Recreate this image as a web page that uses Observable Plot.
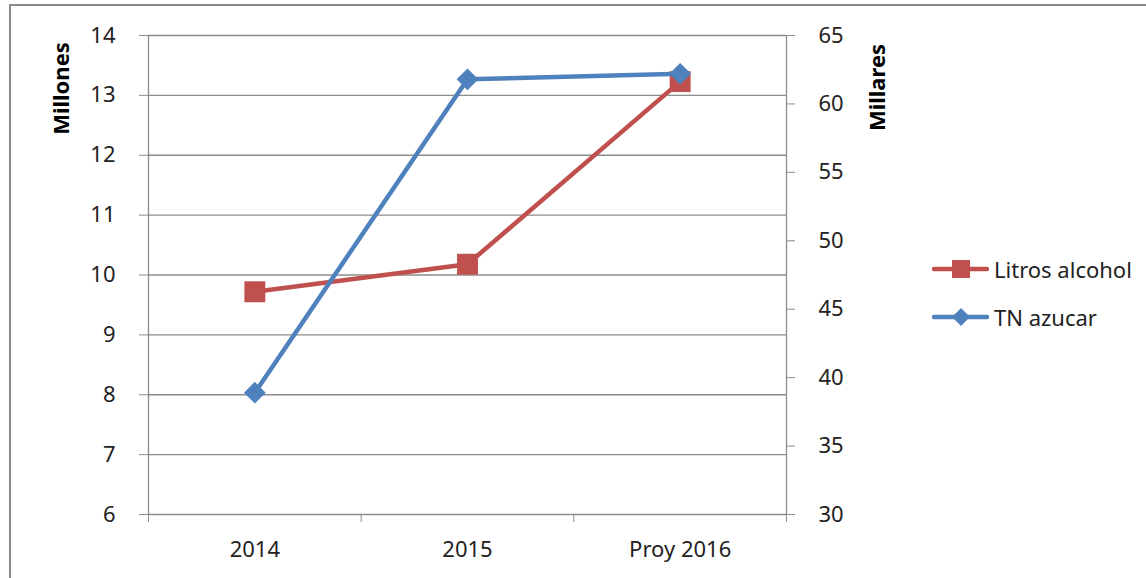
<!DOCTYPE html>
<html><head><meta charset="utf-8">
<script src="https://cdn.jsdelivr.net/npm/d3@7"></script>
<script src="https://cdn.jsdelivr.net/npm/@observablehq/plot@0.6"></script>
<style>
body{margin:0;background:#fff;}
#wrap{position:relative;width:1146px;height:578px;overflow:hidden;font-family:"Noto Sans",sans-serif;color:#222;}
#frame{position:absolute;left:9px;top:4px;width:1300px;height:800px;border-left:2px solid #8a8a8a;border-top:2px solid #8a8a8a;pointer-events:none;}
.leg{position:absolute;left:932px;display:flex;align-items:center;font-size:22px;height:30px;line-height:30px;}
.leg svg{display:block;margin-right:5px;}
</style></head>
<body><div id="wrap"><div id="chart"></div>
<div class="leg" style="top:254px"><svg width="57" height="30"><line x1="2" x2="55" y1="15" y2="15" stroke="#C0504D" stroke-width="4.5" stroke-linecap="round"/><rect x="20" y="6" width="18" height="18" fill="#C0504D"/></svg><span>Litros alcohol</span></div>
<div class="leg" style="top:302px"><svg width="57" height="30"><line x1="2" x2="55" y1="15" y2="15" stroke="#4F81BD" stroke-width="4.5" stroke-linecap="round"/><path d="M29,6 L38,15 L29,24 L20,15 Z" fill="#4F81BD"/></svg><span>TN azucar</span></div>
<div id="frame"></div></div>
<script>
const years = ["2014", "2015", "Proy 2016"];
const alcohol = [9.72, 10.18, 13.23];   // Millones (left axis)
const azucar = [38.9, 61.8, 62.2];      // Millares (right axis)
const leftTicks = [6, 7, 8, 9, 10, 11, 12, 13, 14];
const rightTicks = [30, 35, 40, 45, 50, 55, 60, 65];

const toLeft = d3.scaleLinear([30, 65], [6, 14]);
const rows = years.map((year, i) => ({i, year, alcohol: alcohol[i], azucar: toLeft(azucar[i])}));
const boundaries = d3.range(years.length + 1).map(k => k - 0.5);
const grid = "#8c8c8c";
const ink = "#222";

const chart = Plot.plot({
  width: 1146, height: 578,
  marginLeft: 148, marginRight: 360, marginTop: 35, marginBottom: 64,
  style: {fontFamily: "'Noto Sans', sans-serif", fontSize: "22px", background: "transparent"},
  x: {type: "linear", domain: [-0.5, years.length - 0.5], axis: null},
  y: {domain: [6, 14], axis: null},
  marks: [
    Plot.ruleY(leftTicks, {stroke: grid, strokeWidth: 1.3}),
    Plot.ruleX([boundaries[0], boundaries[boundaries.length - 1]], {stroke: grid, strokeWidth: 1.3}),
    Plot.axisY(leftTicks, {anchor: "left", tickSize: 9, tickPadding: 24, stroke: grid, fill: ink, label: null,
      tickFormat: d => String(d)}),
    Plot.axisY(rightTicks.map(t => toLeft(t)), {anchor: "right", tickSize: 8, tickPadding: 24, stroke: grid, fill: ink, label: null,
      tickFormat: d => String(Math.round(toLeft.invert(d)))}),
    Plot.axisX(boundaries, {anchor: "bottom", tickSize: 8, stroke: grid, tickFormat: () => "", label: null}),
    Plot.axisX(d3.range(years.length), {anchor: "bottom", tickSize: 0, tickPadding: 27, fill: ink, label: null,
      tickFormat: i => years[i]}),
    Plot.line(rows, {x: "i", y: "alcohol", stroke: "#C0504D", strokeWidth: 4.5}),
    Plot.dot(rows, {x: "i", y: "alcohol", symbol: "square", r: 11.8, fill: "#C0504D", stroke: null}),
    Plot.line(rows, {x: "i", y: "azucar", stroke: "#4F81BD", strokeWidth: 4.5}),
    Plot.dot(rows, {x: "i", y: "azucar", symbol: "diamond2", r: 9.8, fill: "#4F81BD", stroke: null}),
    Plot.text(["Millones"], {text: d => d, frameAnchor: "top-left", dx: -87, dy: 53, rotate: -90,
      fontWeight: "bold", fontSize: 22, fill: "#000", textAnchor: "middle", lineAnchor: "middle"}),
    Plot.text(["Millares"], {text: d => d, frameAnchor: "top-right", dx: 91, dy: 52, rotate: -90,
      fontWeight: "bold", fontSize: 22, fill: "#000", textAnchor: "middle", lineAnchor: "middle"})
  ]
});
document.getElementById("chart").appendChild(chart);
</script>
</body></html>
